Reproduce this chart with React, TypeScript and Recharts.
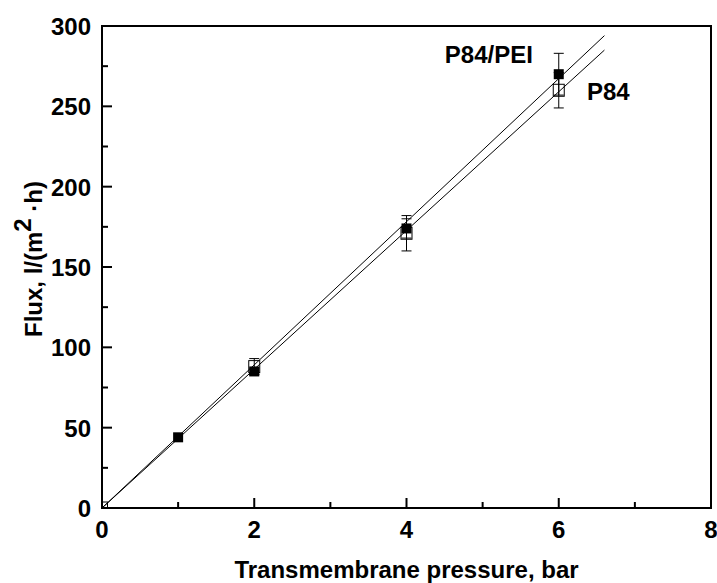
import { ComposedChart, Scatter, XAxis, YAxis, ErrorBar, ReferenceArea, ReferenceDot, Label } from 'recharts'

// measured points
const pressureP84 = [0, 2, 4, 6]
const fluxP84 = [0, 88, 171, 260]
const errP84 = [0, 5, 11, 11]

const pressurePEI = [1, 2, 4, 6]
const fluxPEI = [44, 85, 174, 270]
const errPEI = [0, 2, 6, 13]

// linear fits
const fitX = [0, 6.6]
const fitP84 = [0, 285]
const fitPEI = [0, 294]

const xTicks = [0, 1, 2, 3, 4, 5, 6, 7, 8]
const yTicks = [0, 25, 50, 75, 100, 125, 150, 175, 200, 225, 250, 275, 300]

const p84 = pressureP84.map((x, i) => ({ x, y: fluxP84[i], err: errP84[i] }))
const pei = pressurePEI.map((x, i) => ({ x, y: fluxPEI[i], err: errPEI[i] }))
const lineP84 = fitX.map((x, i) => ({ x, y: fitP84[i] }))
const linePEI = fitX.map((x, i) => ({ x, y: fitPEI[i] }))

const FONT = 'Liberation Sans, Arial, sans-serif'
const textStyle = { fontFamily: FONT, fontWeight: 'bold', fontSize: 24, fill: '#000' }

const YTick = (props: any) => {
  const { x, y, payload } = props
  const major = payload.value % 50 === 0
  return (
    <g>
      <line x1={x} x2={x + (major ? 10 : 6)} y1={y} y2={y} stroke="#000" strokeWidth={2} />
      {major && (
        <text x={x - 11} y={y + 9} textAnchor="end" style={textStyle}>
          {payload.value}
        </text>
      )}
    </g>
  )
}

const XTick = (props: any) => {
  const { x, y, payload } = props
  const major = payload.value % 2 === 0
  return (
    <g>
      <line x1={x} x2={x} y1={y} y2={y - (major ? 10 : 6)} stroke="#000" strokeWidth={2} />
      {major && (
        <text x={x} y={y + 30} textAnchor="middle" style={textStyle}>
          {payload.value}
        </text>
      )}
    </g>
  )
}

const filledSquare = (p: any) => <rect x={p.cx - 5} y={p.cy - 5} width={10} height={10} fill="#000" />
const openSquare = (p: any) => (
  <rect x={p.cx - 5.5} y={p.cy - 6} width={11} height={12} fill="none" stroke="#000" strokeWidth={1} />
)

const YTitle = (props: any) => {
  const { viewBox } = props
  const cx = 42
  const cy = viewBox.y + viewBox.height / 2 - 8
  return (
    <text x={cx} y={cy} transform={`rotate(-90 ${cx} ${cy})`} textAnchor="middle" style={textStyle}>
      Flux, l/(m
      <tspan dy={-11}>2</tspan>
      <tspan dy={11}> ·h)</tspan>
    </text>
  )
}

export default function App() {
  return (
    <div style={{ position: 'absolute', left: 0, top: 0, background: '#fff' }}>
      <ComposedChart width={717} height={583} margin={{ top: 26, right: 6, bottom: 0, left: 0 }}>
        <XAxis
          type="number"
          dataKey="x"
          domain={[0, 8]}
          ticks={xTicks}
          interval={0}
          height={75}
          tickSize={0}
          tickMargin={0}
          tick={<XTick />}
          tickLine={false}
          axisLine={{ stroke: '#000', strokeWidth: 2 }}
          allowDataOverflow
        >
          <Label value="Transmembrane pressure, bar" position="insideBottom" offset={5} style={textStyle} />
        </XAxis>
        <YAxis
          type="number"
          dataKey="y"
          domain={[0, 300]}
          ticks={yTicks}
          interval={0}
          width={102}
          tickSize={0}
          tickMargin={0}
          tick={<YTick />}
          tickLine={false}
          axisLine={{ stroke: '#000', strokeWidth: 2 }}
          allowDataOverflow
        >
          <Label content={<YTitle />} />
        </YAxis>
        <ReferenceArea x1={0} x2={8} y1={0} y2={300} fill="none" stroke="#000" strokeWidth={2} />
        <Scatter data={linePEI} line={{ stroke: '#000', strokeWidth: 1 }} shape={() => null} isAnimationActive={false} />
        <Scatter data={lineP84} line={{ stroke: '#000', strokeWidth: 1 }} shape={() => null} isAnimationActive={false} />
        <Scatter data={p84} shape={openSquare} isAnimationActive={false}>
          <ErrorBar dataKey="err" direction="y" width={5} stroke="#000" strokeWidth={1} />
        </Scatter>
        <Scatter data={pei} shape={filledSquare} isAnimationActive={false}>
          <ErrorBar dataKey="err" direction="y" width={5} stroke="#000" strokeWidth={1} />
        </Scatter>
        <ReferenceDot
          x={5.66}
          y={282}
          r={0}
          fill="none"
          stroke="none"
          label={{ value: 'P84/PEI', position: 'left', offset: 0, style: textStyle }}
        />
        <ReferenceDot
          x={6.37}
          y={259}
          r={0}
          fill="none"
          stroke="none"
          label={{ value: 'P84', position: 'right', offset: 0, style: textStyle }}
        />
      </ComposedChart>
    </div>
  )
}
